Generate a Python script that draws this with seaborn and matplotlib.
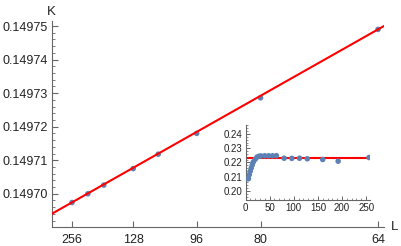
import numpy as np
import pandas as pd
import matplotlib
matplotlib.use("Agg")
import matplotlib.pyplot as plt
from matplotlib.ticker import FixedLocator, MultipleLocator, FormatStrFormatter
import seaborn as sns

# ---- data ----
L_main = [256, 192, 160, 128, 112, 96, 80, 64]
K_main = [0.1496974, 0.1497000, 0.1497026, 0.1497075, 0.1497118, 0.1497180, 0.1497286, 0.1497490]
K_inf = 0.149694
K_slope = 0.2253
x_ticklabels = [256, 128, 96, 80, 64]

L_inset = [6, 8, 10, 12, 14, 16, 20, 24, 28, 32, 40, 48, 56, 64, 80, 96, 112, 128, 160, 192, 256]
S_inset = [0.2086, 0.2115, 0.2140, 0.2162, 0.2183, 0.2203, 0.2222, 0.2238, 0.2244, 0.2246, 0.2247,
           0.2247, 0.2247, 0.2248, 0.2230, 0.2229, 0.2230, 0.2226, 0.2221, 0.2209, 0.2235]
S_fit = 0.2235

sns.set_theme(style="ticks")
plt.rcParams["font.family"] = ["Liberation Sans", "DejaVu Sans"]

axis_col = "#666666"
text_col = "#222222"
pt_col = "#5E81B5"

fig = plt.figure(figsize=(4.01, 2.46), dpi=100)
ax = fig.add_axes([51.6 / 401, (246 - 227) / 246, (384 - 51.6) / 401, (227 - 21) / 246])

df = pd.DataFrame({"x": [1.0 / l ** 2 for l in L_main], "K": K_main})
xmax = 2.486e-4
fit = pd.DataFrame({"x": np.linspace(0, xmax, 50)})
fit["K"] = K_inf + K_slope * fit["x"]

sns.scatterplot(data=df, x="x", y="K", ax=ax, color=pt_col, s=16, edgecolor="none", zorder=2)
sns.lineplot(data=fit, x="x", y="K", ax=ax, color="red", lw=1.5, zorder=3)

ax.set_xlim(0, xmax)
ax.set_ylim(0.1496901, 0.1497515)
ax.xaxis.set_major_locator(FixedLocator([1.0 / l ** 2 for l in x_ticklabels]))
ax.set_xticklabels([str(l) for l in x_ticklabels])
ax.yaxis.set_major_locator(MultipleLocator(1e-5))
ax.yaxis.set_minor_locator(MultipleLocator(2e-6))
ax.yaxis.set_major_formatter(FormatStrFormatter("%.5f"))
ax.set_xlabel("")
ax.set_ylabel("")
for s in ["top", "right"]:
    ax.spines[s].set_visible(False)
for s in ["left", "bottom"]:
    ax.spines[s].set_color(axis_col)
    ax.spines[s].set_linewidth(0.8)
ax.tick_params(axis="both", which="major", direction="in", length=4, width=0.8,
               color=axis_col, labelcolor=text_col, labelsize=9, pad=3)
ax.tick_params(axis="x", which="major", pad=5)
ax.tick_params(axis="y", which="minor", direction="in", length=2, width=0.6, color=axis_col)
ax.text(0, 1.015, "K", transform=ax.transAxes, ha="center", va="bottom", fontsize=9.5, color=text_col)
ax.text(1.02, 0, "L", transform=ax.transAxes, ha="left", va="center", fontsize=9.5, color=text_col)

# ---- inset ----
axi = fig.add_axes([245.5 / 401, (246 - 200) / 246, (370 - 245.5) / 401, (200 - 125) / 246])
dfi = pd.DataFrame({"L": L_inset, "S": S_inset})
axi.axhline(S_fit, color="red", lw=1.5, zorder=2)
sns.scatterplot(data=dfi, x="L", y="S", ax=axi, color=pt_col, s=16, edgecolor="none", zorder=3)
axi.set_xlim(0, 258)
axi.set_ylim(0.1937, 0.2463)
axi.xaxis.set_major_locator(MultipleLocator(50))
axi.xaxis.set_minor_locator(MultipleLocator(10))
axi.yaxis.set_major_locator(MultipleLocator(0.01))
axi.yaxis.set_minor_locator(MultipleLocator(0.002))
axi.yaxis.set_major_formatter(FormatStrFormatter("%.2f"))
axi.set_xlabel("")
axi.set_ylabel("")
axi.patch.set_alpha(0)
for s in ["top", "right"]:
    axi.spines[s].set_visible(False)
for s in ["left", "bottom"]:
    axi.spines[s].set_color(axis_col)
    axi.spines[s].set_linewidth(0.8)
axi.tick_params(axis="both", which="major", direction="in", length=3, width=0.7,
                color=axis_col, labelcolor=text_col, labelsize=7, pad=2)
axi.tick_params(axis="both", which="minor", direction="in", length=1.5, width=0.5, color=axis_col)

fig.savefig("out.png", dpi=100)
